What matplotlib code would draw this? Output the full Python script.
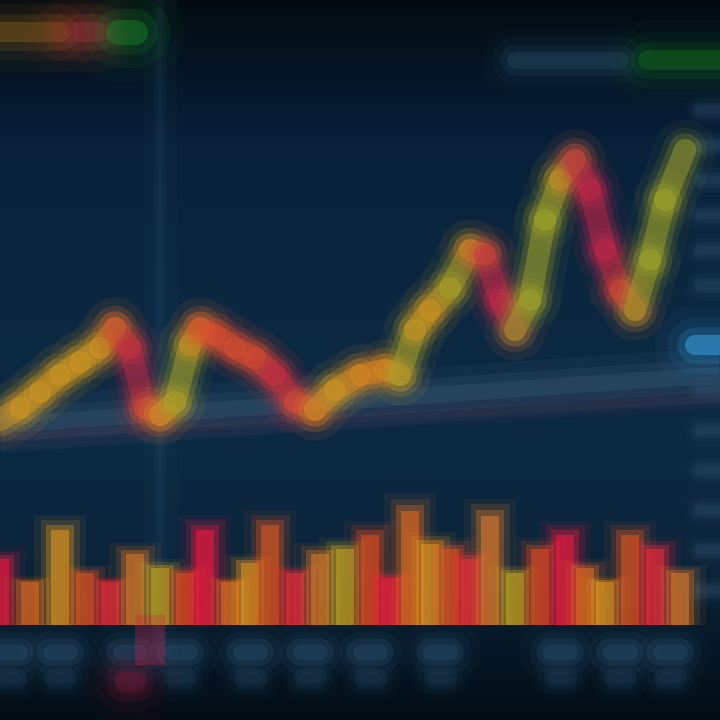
import numpy as np
import matplotlib
matplotlib.use('Agg')
import matplotlib.pyplot as plt
from matplotlib.colors import LinearSegmentedColormap

# price line (x in chart units, price in chart units)
px = [0, 20, 40, 60, 80, 100, 115, 130, 145, 160, 175, 190, 200, 215, 235, 255,
      275, 295, 315, 335, 360, 385, 400, 415, 430, 450, 470, 485, 500, 515, 530,
      545, 560, 575, 590, 605, 620, 635, 650, 665, 685]
price = [300, 312, 328, 345, 358, 372, 392, 372, 312, 305, 318, 375, 392, 385,
         372, 362, 345, 318, 310, 330, 345, 350, 345, 390, 410, 432, 470, 465,
         420, 390, 420, 500, 540, 560, 530, 470, 430, 410, 460, 520, 570]

# volume bars
vx = [0, 30, 60, 85, 110, 135, 160, 185, 205, 230, 250, 270, 295, 320, 345, 370,
      390, 410, 430, 450, 470, 490, 515, 540, 565, 585, 605, 630, 655, 680]
vol = [70, 45, 100, 55, 45, 75, 60, 55, 100, 45, 65, 105, 55, 75, 80, 95, 50,
       120, 85, 80, 70, 115, 55, 80, 95, 60, 45, 95, 80, 55]

# axis label blobs
xlab = [10, 60, 130, 180, 250, 310, 370, 440, 560, 620, 670]
ylab = [610, 575, 540, 505, 470, 435, 330, 290, 250, 210, 170, 130]

fig = plt.figure(figsize=(7.2, 7.2), dpi=100)
fig.patch.set_facecolor('#03101a')
ax = fig.add_axes([0, 0, 1, 1])
ax.set_xlim(0, 720)
ax.set_ylim(0, 720)
ax.axis('off')

# background gradient: dark top, navy middle, dark bottom
bg = LinearSegmentedColormap.from_list('bg', ['#020c14', '#0a2338', '#0c2a44',
                                              '#0b2740', '#08203a', '#020a10'])
grad = np.linspace(0, 1, 256).reshape(-1, 1)
ax.imshow(grad, extent=[0, 720, 720, 0], cmap=bg, aspect='auto', zorder=0)

# faint vertical cursor line and horizontal band
for w, a in [(24, 0.04), (10, 0.05), (4, 0.06)]:
    ax.plot([160, 160], [60, 720], color='#4f7fa8', lw=w, alpha=a, zorder=1)
for w, a in [(40, 0.05), (24, 0.08), (12, 0.1)]:
    ax.plot([0, 720], [295, 345], color='#8aa4bd', lw=w, alpha=a, zorder=1,
            solid_capstyle='butt')
for w, a in [(16, 0.08), (6, 0.12)]:
    ax.plot([0, 720], [282, 322], color='#7a3050', lw=w, alpha=a, zorder=1)

# header blobs (legend / ticker)
def blob(x0, x1, y, color, h=24, alpha=0.8):
    for k, a in [(2.4, 0.08), (1.7, 0.15), (1.1, 0.3), (0.6, alpha)]:
        ax.plot([x0, x1], [y, y], color=color, lw=h * k, alpha=a * 0.6,
                solid_capstyle='round', zorder=2)

blob(0, 60, 688, '#9a6a1a', alpha=0.6)
blob(60, 95, 688, '#8a4020', alpha=0.5)
blob(80, 100, 688, '#a02040', alpha=0.6)
blob(118, 135, 688, '#1a8a2a', h=30, alpha=0.7)
blob(515, 620, 660, '#2d5570', h=20, alpha=0.5)
blob(648, 720, 660, '#13701a', h=24, alpha=0.7)
blob(695, 720, 375, '#3aa0e0', h=24, alpha=0.9)

# y axis label blobs on the right
for y in ylab:
    blob(700, 720, y, '#3a5a78', h=10, alpha=0.25)

# x axis label blobs at the bottom
for x in xlab:
    blob(x - 10, x + 10, 68, '#3a6a90', h=18, alpha=0.35)
    blob(x - 6, x + 6, 42, '#2d5575', h=14, alpha=0.2)
blob(125, 135, 38, '#80102a', h=26, alpha=0.6)

# volume bars
pal = ['#ff1a40', '#f07020', '#f0a020', '#e85a20', '#ff2a3a', '#e8802a',
       '#d0b020', '#f05020']
base = 95
for i, (x, v) in enumerate(zip(vx, vol)):
    c = pal[i % len(pal)]
    for wmul, hm, a in [(2.0, 1.1, 0.07), (1.5, 1.05, 0.15), (1.1, 1.0, 0.3),
                        (0.7, 0.95, 0.5)]:
        ax.bar(x, v * hm, width=26 * wmul, bottom=base, color=c, alpha=a,
               linewidth=0, zorder=3)
ax.bar(150, 50, width=30, bottom=55, color='#d0204a', alpha=0.3, zorder=3)

# price line with glow, colour per segment by direction
def seg_color(d):
    if d > 25:
        return '#b0b028'
    if d > 5:
        return '#e0a020'
    if d < -25:
        return '#d0284a'
    if d < -5:
        return '#e85030'
    return '#f08a20'

for i in range(len(px) - 1):
    c = seg_color(price[i + 1] - price[i])
    for w, a in [(44, 0.05), (32, 0.1), (24, 0.2), (16, 0.4)]:
        ax.plot(px[i:i + 2], price[i:i + 2], color=c, lw=w, alpha=a,
                solid_capstyle='round', zorder=4)

fig.savefig('out.png', dpi=100, facecolor=fig.get_facecolor())
